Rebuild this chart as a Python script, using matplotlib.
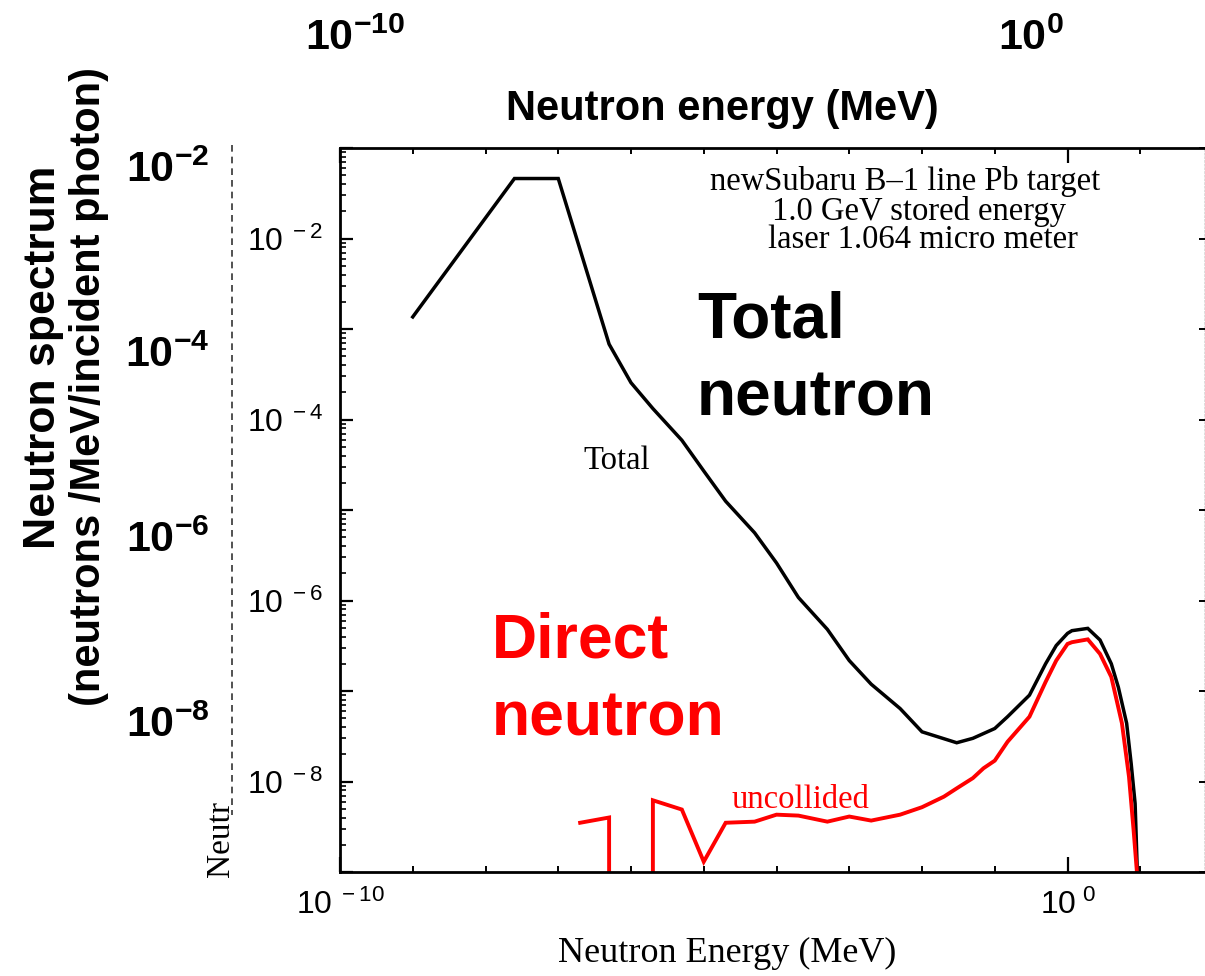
import numpy as np
import matplotlib
matplotlib.use('Agg')
import matplotlib.pyplot as plt
from matplotlib.ticker import FixedLocator, FuncFormatter, NullFormatter, NullLocator
from matplotlib.lines import Line2D

plt.rcParams['font.family'] = ['Liberation Sans', 'DejaVu Sans']
plt.rcParams['mathtext.fontset'] = 'custom'
plt.rcParams['mathtext.rm'] = 'Liberation Sans'
plt.rcParams['mathtext.it'] = 'Liberation Sans:italic'
plt.rcParams['mathtext.bf'] = 'Liberation Sans:bold'

# total neutron spectrum (neutrons/MeV/incident photon) vs energy (MeV)
e_total = [1e-9, 2.5e-8, 1e-7, 5e-7, 1e-6, 2e-6, 5e-6, 1e-5, 2e-5, 5e-5,
           1e-4, 2e-4, 5e-4, 1e-3, 2e-3, 5e-3, 1e-2, 3e-2, 5e-2, 0.1,
           0.15, 0.3, 0.5, 0.7, 1.0, 1.15, 1.9, 2.8, 4.0, 5.0,
           6.5, 7.5, 8.5, 9.2]
f_total = [1.36e-3, 4.6e-2, 4.6e-2, 6.8e-4, 2.55e-4, 1.32e-4, 5.9e-5, 2.7e-5, 1.25e-5, 5.6e-6,
           2.6e-6, 1.08e-6, 4.8e-7, 2.17e-7, 1.19e-7, 6.4e-8, 3.54e-8, 2.68e-8, 3.0e-8, 3.85e-8,
           5.2e-8, 9.0e-8, 2.0e-7, 3.18e-7, 4.33e-7, 4.64e-7, 4.92e-7, 3.66e-7, 2.0e-7, 1.1e-7,
           4.4e-8, 1.58e-8, 5.7e-9, 8e-10]

# uncollided (direct) neutrons
e_direct = [2e-7, 5e-7, 1e-6, 2e-6, 5e-6, 1e-5, 2e-5, 5e-5, 1e-4, 2e-4,
            5e-4, 1e-3, 2e-3, 5e-3, 1e-2, 2e-2, 3e-2, 5e-2, 7e-2, 0.1,
            0.15, 0.3, 0.5, 0.7, 1.0, 1.15, 1.9, 2.8, 4.0, 5.6,
            7.0, 8.1, 9.2]
f_direct = [3.5e-9, 4.0e-9, 0.0, 6.2e-9, 4.9e-9, 1.3e-9, 3.5e-9, 3.6e-9, 4.3e-9, 4.2e-9,
            3.6e-9, 4.1e-9, 3.7e-9, 4.3e-9, 5.2e-9, 6.8e-9, 8.4e-9, 1.09e-8, 1.4e-8, 1.7e-8,
            2.75e-8, 5.2e-8, 1.26e-7, 2.17e-7, 3.31e-7, 3.46e-7, 3.72e-7, 2.57e-7, 1.43e-7, 4.4e-8,
            1.13e-8, 2.9e-9, 8e-10]

outer_x_ticks = [1e-10, 1e0]
outer_x_labels = [r'$\mathbf{10^{-10}}$', r'$\mathbf{10^{0}}$']
outer_y_ticks = [1e-2, 1e-4, 1e-6, 1e-8]
outer_y_labels = [r'$\mathbf{10^{-2}}$', r'$\mathbf{10^{-4}}$', r'$\mathbf{10^{-6}}$', r'$\mathbf{10^{-8}}$']

W, H = 1205, 976
fig = plt.figure(figsize=(W / 100, H / 100), dpi=100)


def fx(x):
    return x / W


def fy(y):
    return 1 - y / H


rect = [fx(340), fy(872), fx(1205) - fx(340), fy(148) - fy(872)]

# bold overlay axis (labels only)
ax_out = fig.add_axes(rect, frameon=False)
ax_out.set_xscale('log')
ax_out.set_yscale('log')
ax_out.set_xlim(10 ** -10.222, 10 ** 2.574)
ax_out.set_ylim(10 ** -9.632, 10 ** -1.805)
ax_out.xaxis.tick_top()
ax_out.set_xticks(outer_x_ticks)
ax_out.set_xticklabels(outer_x_labels)
ax_out.set_yticks(outer_y_ticks)
ax_out.set_yticklabels(outer_y_labels)
ax_out.xaxis.set_minor_locator(NullLocator())
ax_out.yaxis.set_minor_locator(NullLocator())
ax_out.tick_params(axis='x', length=0, pad=64, labelsize=31)
ax_out.tick_params(axis='y', length=0, pad=94, labelsize=31)
ax_out.patch.set_visible(False)

# spectrum axis
ax = fig.add_axes(rect)
ax.set_xscale('log')
ax.set_yscale('log')
ax.plot(e_total, f_total, color='black', lw=2.5, solid_joinstyle='miter')
ax.plot(e_direct, f_direct, color='red', lw=2.8, solid_joinstyle='miter')
ax.set_xlim(1e-10, 10 ** 1.89)
ax.set_ylim(1e-9, 1e-1)

decades_y = [10.0 ** k for k in range(-9, 0)]
minor_y = [m * 10.0 ** k for k in range(-9, -1) for m in range(2, 10)]

ax.xaxis.set_major_locator(FixedLocator([1e-10, 1e0]))
ax.xaxis.set_minor_locator(FixedLocator([10.0 ** k for k in range(-9, 2) if k != 0]))
ax.xaxis.set_major_formatter(FuncFormatter(lambda v, p: r'$10^{\ %d}$' % round(np.log10(v))))
ax.xaxis.set_minor_formatter(NullFormatter())
ax.yaxis.set_major_locator(FixedLocator(decades_y))
ax.yaxis.set_minor_locator(FixedLocator(minor_y))
ax.yaxis.set_major_formatter(FuncFormatter(
    lambda v, p: r'$10^{\ %d}$' % round(np.log10(v)) if round(np.log10(v)) % 2 == 0 else ''))
ax.yaxis.set_minor_formatter(NullFormatter())

ax.tick_params(axis='x', which='major', direction='in', top=True, length=11, width=1.6,
               labelsize=23, pad=13)
ax.tick_params(axis='x', which='minor', direction='in', top=True, length=4.5, width=1.4)
ax.tick_params(axis='y', which='major', direction='in', right=False, length=9, width=1.6,
               labelsize=23, pad=12)
ax.tick_params(axis='y', which='minor', direction='in', right=False, length=4.5, width=1.2)
for side in ['left', 'bottom', 'top']:
    ax.spines[side].set_linewidth(2)
ax.spines['right'].set_linestyle(':')
ax.spines['right'].set_linewidth(1)
ax.spines['right'].set_color('#555555')

# right edge ticks
ax_r = ax.twinx()
ax_r.set_yscale('log')
ax_r.set_ylim(1e-9, 1e-1)
ax_r.yaxis.set_major_locator(FixedLocator(decades_y))
ax_r.yaxis.set_minor_locator(NullLocator())
ax_r.yaxis.set_major_formatter(NullFormatter())
ax_r.tick_params(axis='y', direction='in', length=4.5, width=1.4)
for side in ['left', 'bottom', 'top', 'right']:
    ax_r.spines[side].set_visible(False)

# annotations
serif = 'Liberation Serif'
fig.text(fx(905), fy(190), 'newSubaru B\u20131 line Pb target', ha='center', va='baseline',
         family=serif, size=23.5)
fig.text(fx(919), fy(220), '1.0 GeV stored energy', ha='center', va='baseline',
         family=serif, size=23.5)
fig.text(fx(923), fy(248), 'laser 1.064 micro meter', ha='center', va='baseline',
         family=serif, size=23.5)
fig.text(fx(583), fy(469), 'Total', ha='left', va='baseline', family=serif, size=23.5)
fig.text(fx(732), fy(808), 'uncollided', ha='left', va='baseline', family=serif, size=23.5,
         color='red')

fig.text(fx(697), fy(338), 'Total', ha='left', va='baseline', size=46, weight='bold')
fig.text(fx(697), fy(416), 'neutron', ha='left', va='baseline', size=46, weight='bold')
fig.text(fx(492), fy(658), 'Direct', ha='left', va='baseline', size=45, weight='bold', color='red')
fig.text(fx(492), fy(735), 'neutron', ha='left', va='baseline', size=45, weight='bold', color='red')

# axis titles
fig.text(fx(727), fy(962), 'Neutron Energy (MeV)', ha='center', va='baseline', family=serif, size=26)
fig.text(fx(722), fy(120), 'Neutron energy (MeV)', ha='center', va='baseline', size=30, weight='bold')
fig.text(fx(44), fy(357), 'Neutron spectrum', ha='center', va='center', rotation=90,
         size=32, weight='bold')
fig.text(fx(89), fy(386), '(neutrons /MeV/incident photon)', ha='center', va='center', rotation=90,
         size=30, weight='bold')

# leftover of the original axis title
fig.add_artist(Line2D([fx(232), fx(232)], [fy(145), fy(815)], transform=fig.transFigure,
                      ls=(0, (4, 3)), lw=1.2, color='#333333'))
fig.text(fx(221), fy(877), 'Neutr', ha='center', va='bottom', rotation=90, family=serif, size=24)

fig.savefig('out.png', dpi=100)
